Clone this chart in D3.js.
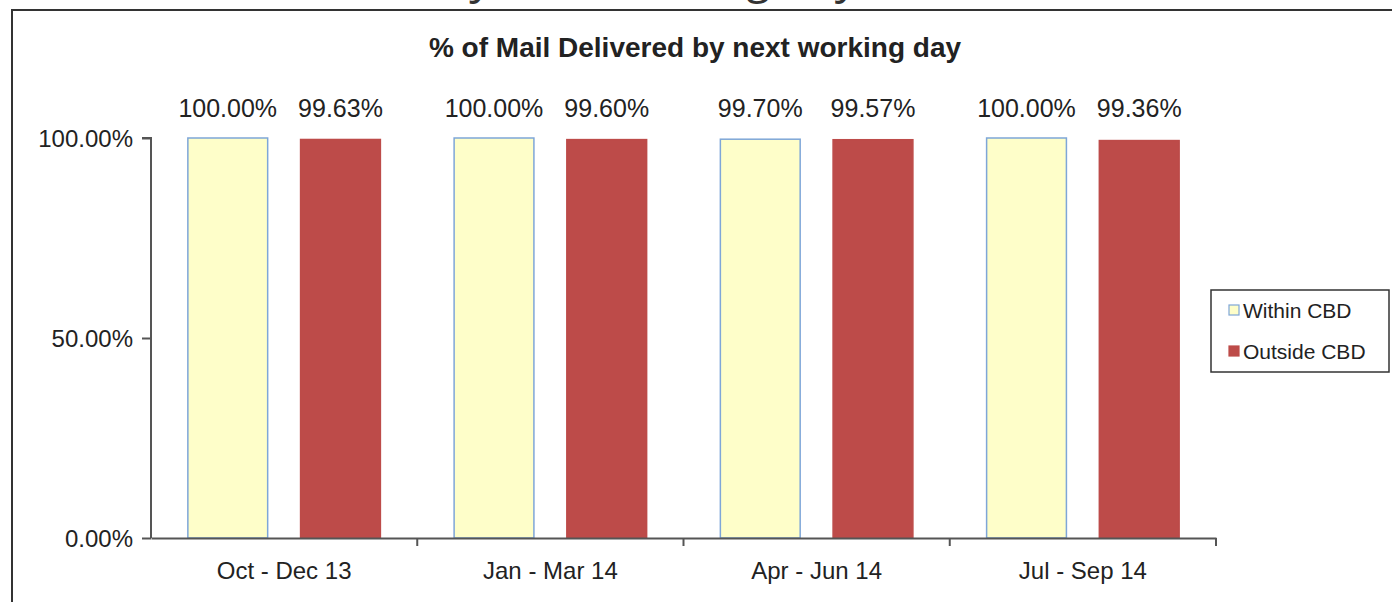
<!DOCTYPE html>
<html>
<head>
<meta charset="utf-8">
<script src="https://cdn.jsdelivr.net/npm/d3@7"></script>
<style>
  body { margin: 0; background: #fff; }
  text { font-family: "Liberation Sans", Arial, sans-serif; fill: #222; }
</style>
</head>
<body>
<div id="chart"></div>
<script>
const width = 1392,
  height = 602,
  margin = { top: 138, bottom: 64, left: 151, right: 176 };

const quarters = ["Oct - Dec 13", "Jan - Mar 14", "Apr - Jun 14", "Jul - Sep 14"];
const withinCBD = [100.0, 100.0, 99.7, 100.0];
const outsideCBD = [99.63, 99.6, 99.57, 99.36];
const seriesNames = ["Within CBD", "Outside CBD"];
const yTicks = [0, 50, 100];

const fills = ["#fefec9", "#bd4b49"];
const strokes = ["#7ea6d8", "#bd4b49"];

const rows = quarters.map((q, i) => ({ q, values: [withinCBD[i], outsideCBD[i]] }));

const svg = d3.select("#chart").append("svg")
  .attr("width", width)
  .attr("height", height);

// heading of the page above, cut off by the crop
svg.append("text")
  .attr("x", 447)
  .attr("y", -7)
  .attr("font-size", 47)
  .style("font-style", "italic")
  .style("font-family", "'Open Sans', sans-serif")
  .style("fill", "#333")
  .text("by next working day");

// frame
svg.append("rect")
  .attr("x", 12)
  .attr("y", 10)
  .attr("width", width + 20)
  .attr("height", height + 20)
  .attr("fill", "none")
  .attr("stroke", "#333")
  .attr("stroke-width", 2);

svg.append("text")
  .attr("x", 695)
  .attr("y", 57)
  .attr("text-anchor", "middle")
  .attr("font-size", 28)
  .attr("font-weight", "bold")
  .text("% of Mail Delivered by next working day");

const x0 = d3.scaleBand()
  .domain(quarters)
  .range([margin.left, width - margin.right])
  .paddingInner(0)
  .paddingOuter(0);

const x1 = d3.scaleBand()
  .domain(seriesNames)
  .range([0, x0.bandwidth()])
  .paddingInner(0.292)
  .paddingOuter(0.327);

const y = d3.scaleLinear()
  .domain([0, 100])
  .range([height - margin.bottom, margin.top]);

// bars
const groups = svg.selectAll(".group")
  .data(rows)
  .join("g")
  .attr("class", "group")
  .attr("transform", d => `translate(${x0(d.q)},0)`);

groups.selectAll("rect")
  .data(d => d.values.map((v, i) => ({ v, i })))
  .join("rect")
  .attr("x", d => x1(seriesNames[d.i]))
  .attr("y", d => y(d.v))
  .attr("width", x1.bandwidth())
  .attr("height", d => y(0) - y(d.v))
  .attr("fill", d => fills[d.i])
  .attr("stroke", d => strokes[d.i])
  .attr("stroke-width", 1.5);

groups.selectAll(".val")
  .data(d => d.values.map((v, i) => ({ v, i })))
  .join("text")
  .attr("class", "val")
  .attr("x", d => x1(seriesNames[d.i]) + x1.bandwidth() / 2)
  .attr("y", 117)
  .attr("text-anchor", "middle")
  .attr("font-size", 25)
  .text(d => d.v.toFixed(2) + "%");

// axes
const yAxis = svg.append("g")
  .attr("transform", `translate(${margin.left},0)`)
  .call(d3.axisLeft(y).tickValues(yTicks).tickSize(9).tickFormat(d => d.toFixed(2) + "%"));
yAxis.select(".domain").attr("stroke", "#555").attr("stroke-width", 2).attr("d", `M-9,${y(100)}H0V${y(0)}`);
yAxis.selectAll(".tick line").attr("stroke", "#555").attr("stroke-width", 2);
yAxis.selectAll(".tick text").attr("font-size", 24).attr("x", -18).attr("dy", "0.36em")
  .attr("font-family", null).style("fill", "#222");

const xAxis = svg.append("g")
  .attr("transform", `translate(0,${y(0)})`)
  .call(d3.axisBottom(x0).tickSize(0).tickPadding(24));
xAxis.select(".domain").attr("stroke", "#555").attr("stroke-width", 2);
xAxis.selectAll(".tick text").attr("font-size", 24)
  .attr("font-family", null).style("fill", "#222");
xAxis.selectAll(".sep")
  .data(quarters)
  .join("line")
  .attr("class", "sep")
  .attr("x1", d => x0(d) + x0.step())
  .attr("x2", d => x0(d) + x0.step())
  .attr("y1", 0)
  .attr("y2", 8)
  .attr("stroke", "#555")
  .attr("stroke-width", 2);

// legend
const legend = svg.append("g").attr("transform", "translate(1211,290)");
legend.append("rect")
  .attr("width", 178)
  .attr("height", 82)
  .attr("fill", "#fff")
  .attr("stroke", "#333")
  .attr("stroke-width", 1.5);
const items = legend.selectAll(".item")
  .data(seriesNames)
  .join("g")
  .attr("class", "item")
  .attr("transform", (d, i) => `translate(18,${20 + i * 41})`);
items.append("rect")
  .attr("x", 0)
  .attr("y", -5)
  .attr("width", 10)
  .attr("height", 10)
  .attr("fill", (d, i) => fills[i])
  .attr("stroke", (d, i) => strokes[i])
  .attr("stroke-width", 1.2);
items.append("text")
  .attr("x", 14)
  .attr("dy", "0.36em")
  .attr("font-size", 21)
  .text(d => d);
</script>
</body>
</html>
